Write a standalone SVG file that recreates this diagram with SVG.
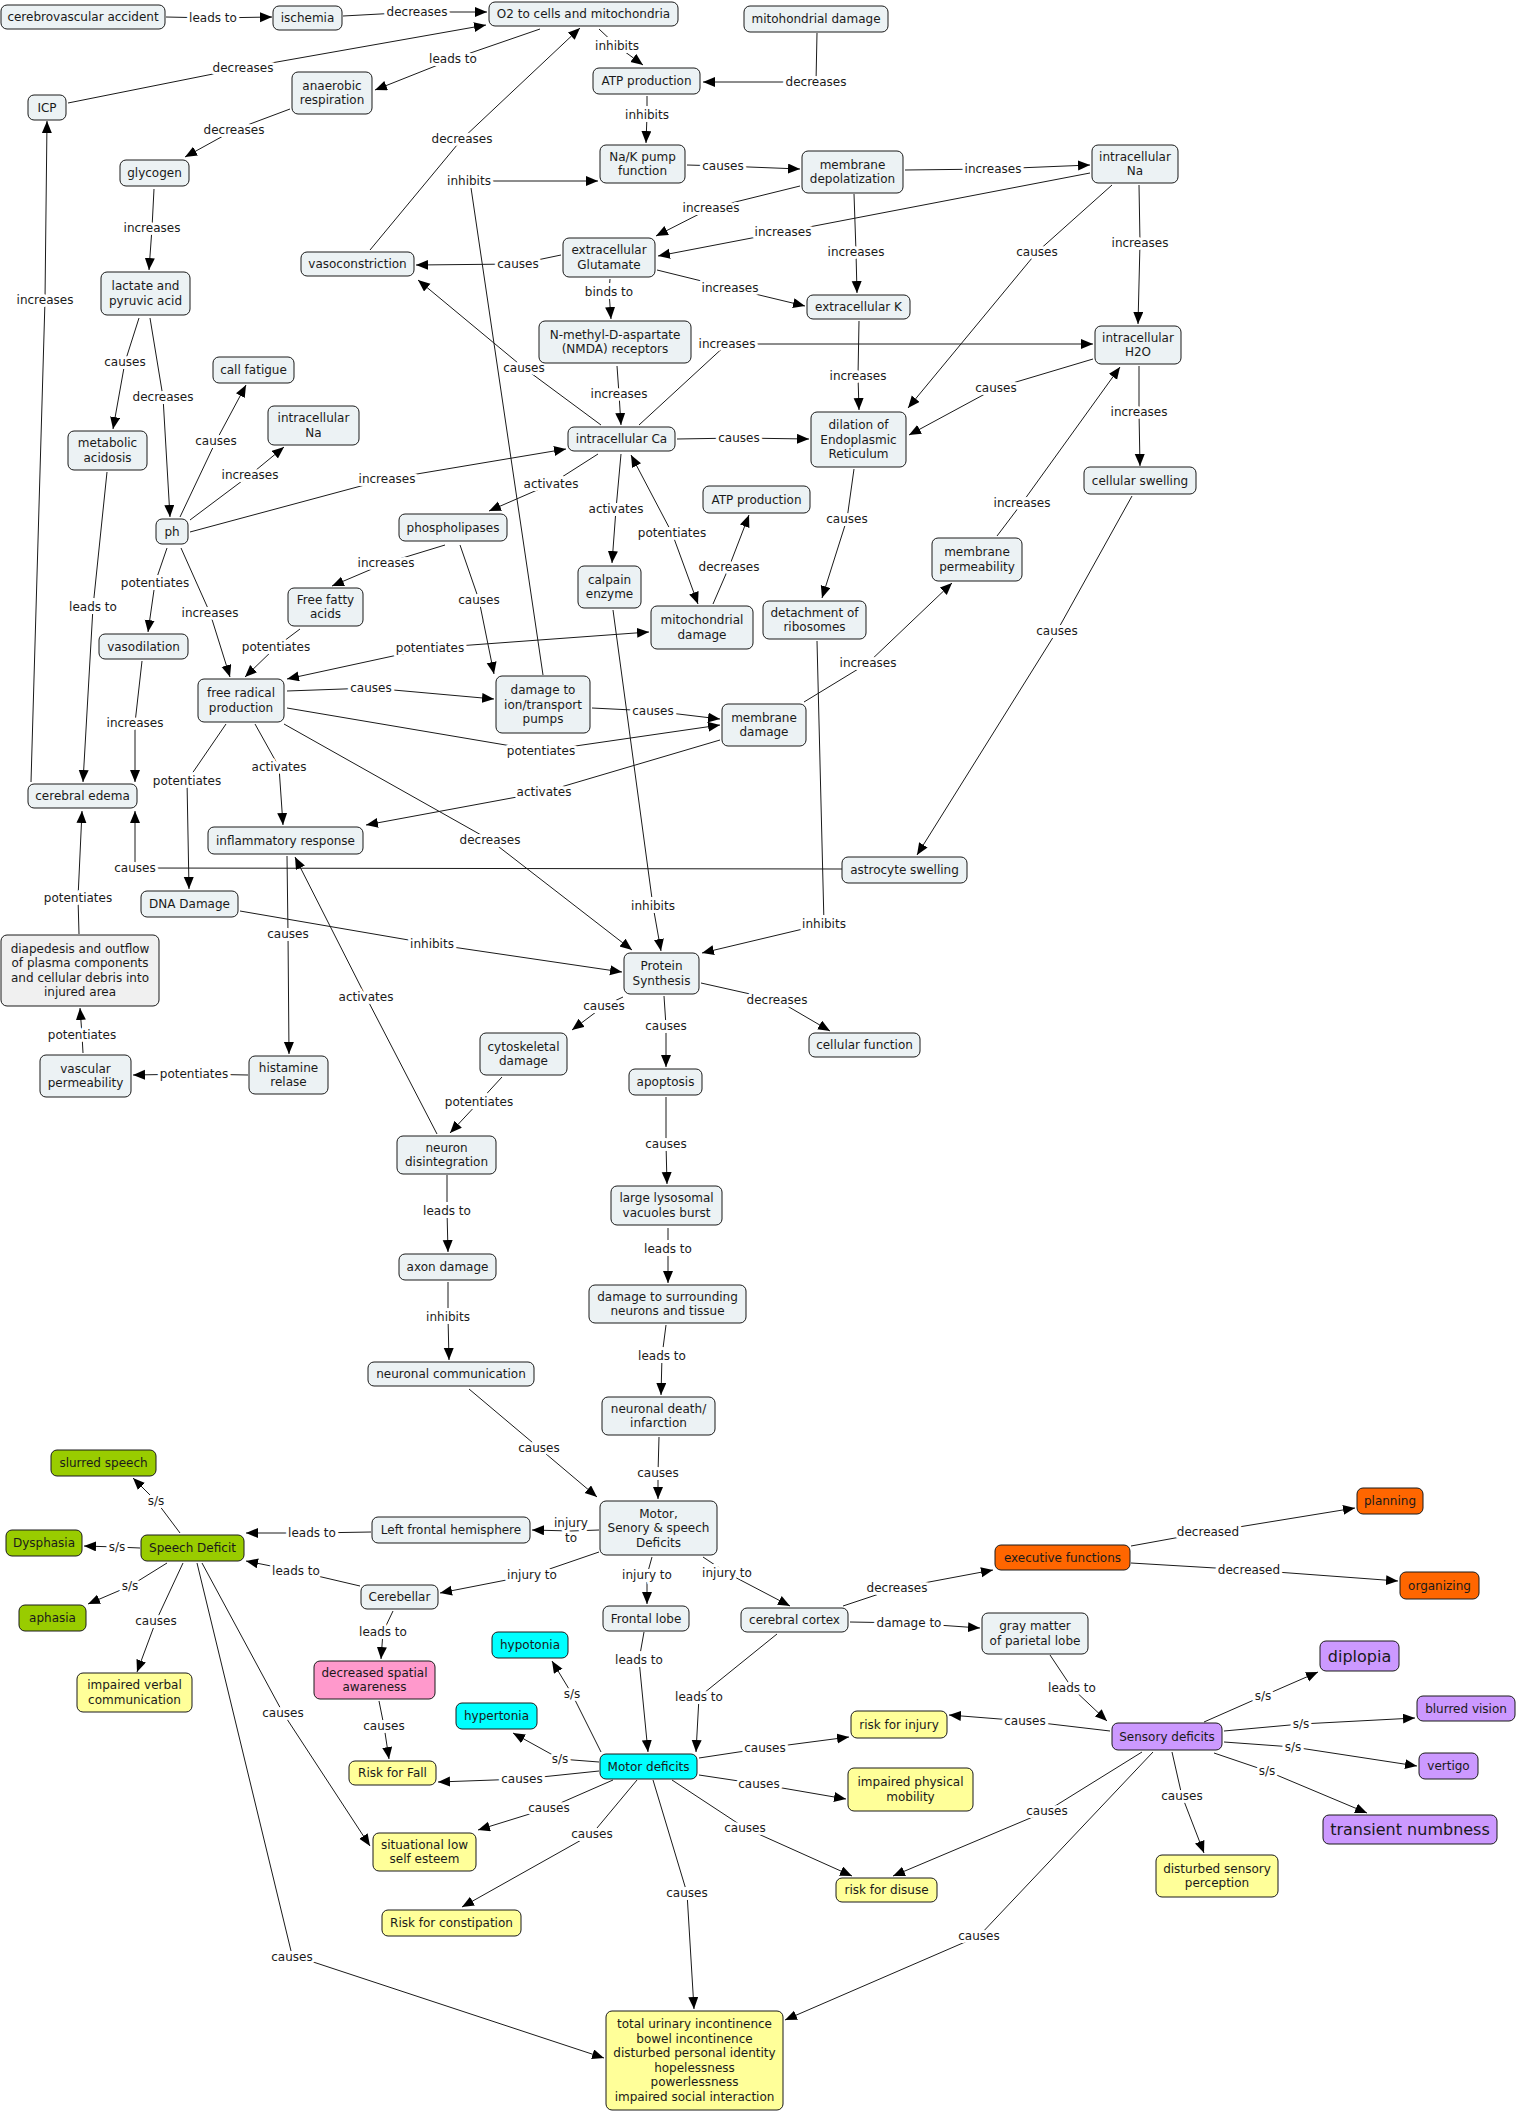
<svg xmlns="http://www.w3.org/2000/svg" width="1518" height="2113" viewBox="0 0 1518 2113">
<defs>
<style>
rect{stroke:#1a1a1a;stroke-width:1}
.n{fill:#ecf2f4}.d{fill:#f0f0f0}.g{fill:#99cc00}.y{fill:#ffff99}.c{fill:#00ffff}.p{fill:#cc99ff}.o{fill:#ff6600}.k{fill:#ff99cc}
text{font-family:"DejaVu Sans","Verdana",sans-serif;font-size:12px;fill:#1a1a1a;text-anchor:middle}
.big{font-size:16px}
.e{fill:none;stroke:#1a1a1a;stroke-width:1}
.l{stroke:#fff;stroke-width:6;stroke-linejoin:round;paint-order:stroke}
</style>
<marker id="a" markerUnits="userSpaceOnUse" markerWidth="13" markerHeight="11" refX="12" refY="5" orient="auto-start-reverse"><path d="M0,0 L12,5 L0,10 z" fill="#000"/></marker>
</defs>
<rect x="0" y="0" width="1518" height="2113" fill="#fff" style="stroke:none"/>
<g id="connectors">
<path class="e" marker-end="url(#a)" d="M166,17 L213,18 L272,17"/>
<path class="e" marker-end="url(#a)" d="M343,16 L417,12 L487,12"/>
<path class="e" marker-end="url(#a)" d="M68,103 L243,68 L486,25"/>
<path class="e" marker-end="url(#a)" d="M540,29 L453,59 L375,90"/>
<path class="e" marker-end="url(#a)" d="M290,109 L234,130 L185,157"/>
<path class="e" marker-end="url(#a)" d="M154,189 L152,228 L149,270"/>
<path class="e" marker-end="url(#a)" d="M370,250 L462,139 L580,28"/>
<path class="e" marker-end="url(#a)" d="M543,675 L470,181 L598,181"/>
<path class="e" marker-end="url(#a)" d="M599,29 L617,46 L643,65"/>
<path class="e" marker-end="url(#a)" d="M817,33 L816,82 L703,82"/>
<path class="e" marker-end="url(#a)" d="M647,96 L647,115 L646,143"/>
<path class="e" marker-end="url(#a)" d="M687,165 L723,166 L800,169"/>
<path class="e" marker-end="url(#a)" d="M905,170 L993,169 L1090,165"/>
<path class="e" marker-end="url(#a)" d="M800,186 L711,208 L656,236"/>
<path class="e" marker-end="url(#a)" d="M1090,173 L783,232 L658,256"/>
<path class="e" marker-end="url(#a)" d="M854,194 L856,252 L857,293"/>
<path class="e" marker-end="url(#a)" d="M657,270 L730,288 L805,306"/>
<path class="e" marker-end="url(#a)" d="M610,279 L609,292 L611,319"/>
<path class="e" marker-end="url(#a)" d="M561,255 L518,264 L416,265"/>
<path class="e" marker-end="url(#a)" d="M601,425 L524,368 L418,280"/>
<path class="e" marker-end="url(#a)" d="M617,366 L619,394 L621,425"/>
<path class="e" marker-end="url(#a)" d="M639,425 L727,344 L1093,344"/>
<path class="e" marker-end="url(#a)" d="M1139,185 L1140,243 L1138,324"/>
<path class="e" marker-end="url(#a)" d="M677,439 L739,438 L809,439"/>
<path class="e" marker-end="url(#a)" d="M1112,185 L1037,252 L908,408"/>
<path class="e" marker-end="url(#a)" d="M1093,359 L996,388 L909,435"/>
<path class="e" marker-end="url(#a)" d="M859,321 L858,376 L859,410"/>
<path class="e" marker-end="url(#a)" d="M1139,366 L1139,412 L1140,466"/>
<path class="e" marker-end="url(#a)" d="M139,318 L125,362 L113,429"/>
<path class="e" marker-end="url(#a)" d="M150,318 L163,397 L170,517"/>
<path class="e" marker-end="url(#a)" d="M180,517 L216,441 L246,385"/>
<path class="e" marker-end="url(#a)" d="M190,520 L250,475 L284,447"/>
<path class="e" marker-end="url(#a)" d="M190,532 L387,479 L566,449"/>
<path class="e" marker-end="url(#a)" d="M31,782 L45,300 L47,121"/>
<path class="e" marker-end="url(#a)" d="M598,454 L551,484 L489,511"/>
<path class="e" marker-end="url(#a)" d="M621,454 L616,509 L612,563"/>
<path class="e" marker-start="url(#a)" marker-end="url(#a)" d="M631,455 L672,533 L698,604"/>
<path class="e" marker-end="url(#a)" d="M713,604 L729,567 L749,515"/>
<path class="e" marker-end="url(#a)" d="M854,469 L847,519 L822,598"/>
<path class="e" marker-end="url(#a)" d="M997,536 L1022,503 L1120,367"/>
<path class="e" marker-end="url(#a)" d="M1132,496 L1057,631 L917,855"/>
<path class="e" marker-end="url(#a)" d="M445,545 L386,563 L332,586"/>
<path class="e" marker-end="url(#a)" d="M460,545 L479,600 L494,674"/>
<path class="e" marker-end="url(#a)" d="M167,548 L155,583 L148,632"/>
<path class="e" marker-end="url(#a)" d="M181,548 L210,613 L230,677"/>
<path class="e" marker-end="url(#a)" d="M107,472 L93,607 L83,782"/>
<path class="e" marker-end="url(#a)" d="M300,629 L276,647 L245,677"/>
<path class="e" marker-start="url(#a)" marker-end="url(#a)" d="M287,679 L430,648 L649,632"/>
<path class="e" marker-end="url(#a)" d="M287,691 L371,688 L494,699"/>
<path class="e" marker-end="url(#a)" d="M287,708 L541,751 L720,725"/>
<path class="e" marker-end="url(#a)" d="M142,661 L135,723 L135,782"/>
<path class="e" marker-end="url(#a)" d="M226,724 L187,781 L189,889"/>
<path class="e" marker-end="url(#a)" d="M255,724 L279,767 L283,825"/>
<path class="e" marker-end="url(#a)" d="M284,724 L490,840 L632,950"/>
<path class="e" marker-end="url(#a)" d="M720,740 L544,792 L366,825"/>
<path class="e" marker-end="url(#a)" d="M842,869 L135,868 L135,811"/>
<path class="e" marker-end="url(#a)" d="M79,934 L78,898 L82,811"/>
<path class="e" marker-end="url(#a)" d="M240,911 L432,944 L622,972"/>
<path class="e" marker-end="url(#a)" d="M287,856 L288,934 L289,1054"/>
<path class="e" marker-end="url(#a)" d="M437,1134 L366,997 L295,857"/>
<path class="e" marker-end="url(#a)" d="M83,1053 L82,1035 L80,1008"/>
<path class="e" marker-end="url(#a)" d="M613,610 L653,906 L661,951"/>
<path class="e" marker-end="url(#a)" d="M592,708 L653,711 L720,719"/>
<path class="e" marker-end="url(#a)" d="M804,702 L868,663 L952,583"/>
<path class="e" marker-end="url(#a)" d="M817,641 L824,924 L702,953"/>
<path class="e" marker-end="url(#a)" d="M623,997 L604,1006 L572,1030"/>
<path class="e" marker-end="url(#a)" d="M664,996 L666,1026 L666,1067"/>
<path class="e" marker-end="url(#a)" d="M701,983 L777,1000 L830,1031"/>
<path class="e" marker-end="url(#a)" d="M248,1075 L194,1074 L133,1075"/>
<path class="e" marker-end="url(#a)" d="M502,1077 L479,1102 L450,1133"/>
<path class="e" marker-end="url(#a)" d="M447,1175 L447,1211 L448,1252"/>
<path class="e" marker-end="url(#a)" d="M448,1282 L448,1317 L449,1360"/>
<path class="e" marker-end="url(#a)" d="M666,1097 L666,1144 L667,1184"/>
<path class="e" marker-end="url(#a)" d="M668,1228 L668,1249 L668,1283"/>
<path class="e" marker-end="url(#a)" d="M666,1325 L662,1356 L661,1395"/>
<path class="e" marker-end="url(#a)" d="M659,1437 L658,1473 L658,1499"/>
<path class="e" marker-end="url(#a)" d="M469,1389 L539,1448 L597,1497"/>
<path class="e" marker-end="url(#a)" d="M599,1530 L571,1531 L532,1530"/>
<path class="e" marker-end="url(#a)" d="M371,1532 L312,1533 L246,1533"/>
<path class="e" marker-end="url(#a)" d="M360,1586 L296,1571 L246,1561"/>
<path class="e" marker-end="url(#a)" d="M180,1533 L156,1501 L133,1478"/>
<path class="e" marker-end="url(#a)" d="M140,1548 L117,1547 L84,1546"/>
<path class="e" marker-end="url(#a)" d="M599,1552 L532,1575 L440,1593"/>
<path class="e" marker-end="url(#a)" d="M652,1557 L647,1575 L647,1604"/>
<path class="e" marker-end="url(#a)" d="M703,1557 L727,1573 L790,1606"/>
<path class="e" marker-end="url(#a)" d="M1131,1546 L1208,1532 L1355,1508"/>
<path class="e" marker-end="url(#a)" d="M1131,1563 L1249,1570 L1398,1581"/>
<path class="e" marker-end="url(#a)" d="M843,1606 L897,1588 L993,1570"/>
<path class="e" marker-end="url(#a)" d="M850,1622 L909,1623 L980,1628"/>
<path class="e" marker-end="url(#a)" d="M644,1632 L639,1660 L648,1752"/>
<path class="e" marker-end="url(#a)" d="M777,1634 L699,1697 L696,1752"/>
<path class="e" marker-end="url(#a)" d="M1050,1655 L1072,1688 L1107,1721"/>
<path class="e" marker-end="url(#a)" d="M167,1563 L130,1586 L88,1604"/>
<path class="e" marker-end="url(#a)" d="M183,1563 L156,1621 L137,1672"/>
<path class="e" marker-end="url(#a)" d="M202,1563 L283,1713 L370,1846"/>
<path class="e" marker-end="url(#a)" d="M197,1563 L292,1955 L604,2058"/>
<path class="e" marker-end="url(#a)" d="M393,1611 L383,1632 L381,1659"/>
<path class="e" marker-end="url(#a)" d="M379,1701 L384,1726 L389,1759"/>
<path class="e" marker-end="url(#a)" d="M601,1752 L572,1694 L552,1661"/>
<path class="e" marker-end="url(#a)" d="M599,1762 L560,1759 L513,1733"/>
<path class="e" marker-end="url(#a)" d="M599,1771 L522,1779 L438,1782"/>
<path class="e" marker-end="url(#a)" d="M613,1780 L549,1808 L478,1830"/>
<path class="e" marker-end="url(#a)" d="M637,1780 L592,1834 L462,1907"/>
<path class="e" marker-end="url(#a)" d="M699,1758 L765,1748 L849,1737"/>
<path class="e" marker-end="url(#a)" d="M699,1775 L759,1784 L846,1799"/>
<path class="e" marker-end="url(#a)" d="M672,1780 L745,1828 L852,1876"/>
<path class="e" marker-end="url(#a)" d="M653,1780 L687,1893 L694,2009"/>
<path class="e" marker-end="url(#a)" d="M1110,1731 L1025,1721 L949,1715"/>
<path class="e" marker-end="url(#a)" d="M1142,1752 L1047,1811 L893,1876"/>
<path class="e" marker-end="url(#a)" d="M1153,1752 L979,1936 L785,2020"/>
<path class="e" marker-end="url(#a)" d="M1172,1752 L1182,1796 L1204,1853"/>
<path class="e" marker-end="url(#a)" d="M1204,1722 L1263,1696 L1318,1672"/>
<path class="e" marker-end="url(#a)" d="M1224,1731 L1301,1724 L1415,1718"/>
<path class="e" marker-end="url(#a)" d="M1224,1742 L1293,1747 L1417,1766"/>
<path class="e" marker-end="url(#a)" d="M1214,1753 L1267,1771 L1367,1813"/>
<g id="labels">
<text class="l" x="213" y="22">leads to</text>
<text class="l" x="417" y="16">decreases</text>
<text class="l" x="243" y="72">decreases</text>
<text class="l" x="453" y="63">leads to</text>
<text class="l" x="234" y="134">decreases</text>
<text class="l" x="152" y="232">increases</text>
<text class="l" x="462" y="143">decreases</text>
<text class="l" x="469" y="185">inhibits</text>
<text class="l" x="617" y="50">inhibits</text>
<text class="l" x="816" y="86">decreases</text>
<text class="l" x="647" y="119">inhibits</text>
<text class="l" x="723" y="170">causes</text>
<text class="l" x="993" y="173">increases</text>
<text class="l" x="711" y="212">increases</text>
<text class="l" x="783" y="236">increases</text>
<text class="l" x="856" y="256">increases</text>
<text class="l" x="730" y="292">increases</text>
<text class="l" x="609" y="296">binds to</text>
<text class="l" x="518" y="268">causes</text>
<text class="l" x="524" y="372">causes</text>
<text class="l" x="619" y="398">increases</text>
<text class="l" x="727" y="348">increases</text>
<text class="l" x="1140" y="247">increases</text>
<text class="l" x="739" y="442">causes</text>
<text class="l" x="1037" y="256">causes</text>
<text class="l" x="996" y="392">causes</text>
<text class="l" x="858" y="380">increases</text>
<text class="l" x="1139" y="416">increases</text>
<text class="l" x="125" y="366">causes</text>
<text class="l" x="163" y="401">decreases</text>
<text class="l" x="216" y="445">causes</text>
<text class="l" x="250" y="479">increases</text>
<text class="l" x="387" y="483">increases</text>
<text class="l" x="45" y="304">increases</text>
<text class="l" x="551" y="488">activates</text>
<text class="l" x="616" y="513">activates</text>
<text class="l" x="672" y="537">potentiates</text>
<text class="l" x="729" y="571">decreases</text>
<text class="l" x="847" y="523">causes</text>
<text class="l" x="1022" y="507">increases</text>
<text class="l" x="1057" y="635">causes</text>
<text class="l" x="386" y="567">increases</text>
<text class="l" x="479" y="604">causes</text>
<text class="l" x="155" y="587">potentiates</text>
<text class="l" x="210" y="617">increases</text>
<text class="l" x="93" y="611">leads to</text>
<text class="l" x="276" y="651">potentiates</text>
<text class="l" x="430" y="652">potentiates</text>
<text class="l" x="371" y="692">causes</text>
<text class="l" x="541" y="755">potentiates</text>
<text class="l" x="135" y="727">increases</text>
<text class="l" x="187" y="785">potentiates</text>
<text class="l" x="279" y="771">activates</text>
<text class="l" x="490" y="844">decreases</text>
<text class="l" x="544" y="796">activates</text>
<text class="l" x="135" y="872">causes</text>
<text class="l" x="78" y="902">potentiates</text>
<text class="l" x="432" y="948">inhibits</text>
<text class="l" x="288" y="938">causes</text>
<text class="l" x="366" y="1001">activates</text>
<text class="l" x="82" y="1039">potentiates</text>
<text class="l" x="653" y="910">inhibits</text>
<text class="l" x="653" y="715">causes</text>
<text class="l" x="868" y="667">increases</text>
<text class="l" x="824" y="928">inhibits</text>
<text class="l" x="604" y="1010">causes</text>
<text class="l" x="666" y="1030">causes</text>
<text class="l" x="777" y="1004">decreases</text>
<text class="l" x="194" y="1078">potentiates</text>
<text class="l" x="479" y="1106">potentiates</text>
<text class="l" x="447" y="1215">leads to</text>
<text class="l" x="448" y="1321">inhibits</text>
<text class="l" x="666" y="1148">causes</text>
<text class="l" x="668" y="1253">leads to</text>
<text class="l" x="662" y="1360">leads to</text>
<text class="l" x="658" y="1477">causes</text>
<text class="l" x="539" y="1452">causes</text>
<text class="l" x="571" y="1527">injury<tspan x="571" dy="14.5">to</tspan></text>
<text class="l" x="312" y="1537">leads to</text>
<text class="l" x="296" y="1575">leads to</text>
<text class="l" x="156" y="1505">s/s</text>
<text class="l" x="117" y="1551">s/s</text>
<text class="l" x="532" y="1579">injury to</text>
<text class="l" x="647" y="1579">injury to</text>
<text class="l" x="727" y="1577">injury to</text>
<text class="l" x="1208" y="1536">decreased</text>
<text class="l" x="1249" y="1574">decreased</text>
<text class="l" x="897" y="1592">decreases</text>
<text class="l" x="909" y="1627">damage to</text>
<text class="l" x="639" y="1664">leads to</text>
<text class="l" x="699" y="1701">leads to</text>
<text class="l" x="1072" y="1692">leads to</text>
<text class="l" x="130" y="1590">s/s</text>
<text class="l" x="156" y="1625">causes</text>
<text class="l" x="283" y="1717">causes</text>
<text class="l" x="292" y="1961">causes</text>
<text class="l" x="383" y="1636">leads to</text>
<text class="l" x="384" y="1730">causes</text>
<text class="l" x="572" y="1698">s/s</text>
<text class="l" x="560" y="1763">s/s</text>
<text class="l" x="522" y="1783">causes</text>
<text class="l" x="549" y="1812">causes</text>
<text class="l" x="592" y="1838">causes</text>
<text class="l" x="765" y="1752">causes</text>
<text class="l" x="759" y="1788">causes</text>
<text class="l" x="745" y="1832">causes</text>
<text class="l" x="687" y="1897">causes</text>
<text class="l" x="1025" y="1725">causes</text>
<text class="l" x="1047" y="1815">causes</text>
<text class="l" x="979" y="1940">causes</text>
<text class="l" x="1182" y="1800">causes</text>
<text class="l" x="1263" y="1700">s/s</text>
<text class="l" x="1301" y="1728">s/s</text>
<text class="l" x="1293" y="1751">s/s</text>
<text class="l" x="1267" y="1775">s/s</text>
</g>
</g>
<g id="nodes">
<g id="n1"><rect class="n" x="1" y="5" width="164" height="24" rx="6"/><text x="83" y="21">cerebrovascular accident</text></g>
<g id="n2"><rect class="n" x="273" y="6" width="69" height="24" rx="6"/><text x="307.5" y="22">ischemia</text></g>
<g id="n3"><rect class="n" x="489" y="2" width="189" height="24" rx="6"/><text x="583.5" y="18">O2 to cells and mitochondria</text></g>
<g id="n4"><rect class="n" x="744" y="6" width="144" height="26" rx="6"/><text x="816" y="23">mitohondrial damage</text></g>
<g id="n5"><rect class="n" x="28" y="95" width="38" height="25" rx="6"/><text x="47" y="111.5">ICP</text></g>
<g id="n6"><rect class="n" x="292" y="72" width="80" height="42" rx="6"/><text x="332" y="89.75">anaerobic<tspan x="332" dy="14.5">respiration</tspan></text></g>
<g id="n7"><rect class="n" x="593" y="68" width="107" height="26" rx="6"/><text x="646.5" y="85">ATP production</text></g>
<g id="n8"><rect class="n" x="120" y="160" width="69" height="26" rx="6"/><text x="154.5" y="177">glycogen</text></g>
<g id="n9"><rect class="n" x="600" y="145" width="85" height="38" rx="6"/><text x="642.5" y="160.75">Na/K pump<tspan x="642.5" dy="14.5">function</tspan></text></g>
<g id="n10"><rect class="n" x="802" y="151" width="101" height="42" rx="6"/><text x="852.5" y="168.75">membrane<tspan x="852.5" dy="14.5">depolatization</tspan></text></g>
<g id="n11"><rect class="n" x="1092" y="145" width="86" height="38" rx="6"/><text x="1135" y="160.75">intracellular<tspan x="1135" dy="14.5">Na</tspan></text></g>
<g id="n12"><rect class="n" x="301" y="252" width="113" height="24" rx="6"/><text x="357.5" y="268">vasoconstriction</text></g>
<g id="n13"><rect class="n" x="563" y="238" width="92" height="39" rx="6"/><text x="609" y="254.25">extracellular<tspan x="609" dy="14.5">Glutamate</tspan></text></g>
<g id="n14"><rect class="n" x="101" y="272" width="89" height="43" rx="6"/><text x="145.5" y="290.25">lactate and<tspan x="145.5" dy="14.5">pyruvic acid</tspan></text></g>
<g id="n15"><rect class="n" x="807" y="295" width="103" height="24" rx="6"/><text x="858.5" y="311">extracellular K</text></g>
<g id="n16"><rect class="n" x="539" y="321" width="152" height="42" rx="6"/><text x="615" y="338.75">N-methyl-D-aspartate<tspan x="615" dy="14.5">(NMDA) receptors</tspan></text></g>
<g id="n17"><rect class="n" x="1095" y="326" width="86" height="38" rx="6"/><text x="1138" y="341.75">intracellular<tspan x="1138" dy="14.5">H2O</tspan></text></g>
<g id="n18"><rect class="n" x="213" y="357" width="81" height="26" rx="6"/><text x="253.5" y="374">call fatigue</text></g>
<g id="n19"><rect class="n" x="268" y="406" width="91" height="39" rx="6"/><text x="313.5" y="422.25">intracellular<tspan x="313.5" dy="14.5">Na</tspan></text></g>
<g id="n20"><rect class="n" x="68" y="431" width="79" height="39" rx="6"/><text x="107.5" y="447.25">metabolic<tspan x="107.5" dy="14.5">acidosis</tspan></text></g>
<g id="n21"><rect class="n" x="568" y="427" width="107" height="24" rx="6"/><text x="621.5" y="443">intracellular Ca</text></g>
<g id="n22"><rect class="n" x="811" y="412" width="95" height="55" rx="6"/><text x="858.5" y="429">dilation of<tspan x="858.5" dy="14.5">Endoplasmic</tspan><tspan x="858.5" dy="14.5">Reticulum</tspan></text></g>
<g id="n23"><rect class="n" x="1084" y="467" width="112" height="27" rx="6"/><text x="1140" y="484.5">cellular swelling</text></g>
<g id="n24"><rect class="n" x="703" y="486" width="107" height="27" rx="6"/><text x="756.5" y="503.5">ATP production</text></g>
<g id="n25"><rect class="n" x="156" y="519" width="32" height="25" rx="6"/><text x="172" y="535.5">ph</text></g>
<g id="n26"><rect class="n" x="399" y="514" width="108" height="27" rx="6"/><text x="453" y="531.5">phospholipases</text></g>
<g id="n27"><rect class="n" x="932" y="538" width="90" height="43" rx="6"/><text x="977" y="556.25">membrane<tspan x="977" dy="14.5">permeability</tspan></text></g>
<g id="n28"><rect class="n" x="578" y="566" width="63" height="42" rx="6"/><text x="609.5" y="583.75">calpain<tspan x="609.5" dy="14.5">enzyme</tspan></text></g>
<g id="n29"><rect class="n" x="288" y="588" width="75" height="38" rx="6"/><text x="325.5" y="603.75">Free fatty<tspan x="325.5" dy="14.5">acids</tspan></text></g>
<g id="n30"><rect class="n" x="763" y="601" width="103" height="38" rx="6"/><text x="814.5" y="616.75">detachment of<tspan x="814.5" dy="14.5">ribosomes</tspan></text></g>
<g id="n31"><rect class="n" x="651" y="606" width="102" height="43" rx="6"/><text x="702" y="624.25">mitochondrial<tspan x="702" dy="14.5">damage</tspan></text></g>
<g id="n32"><rect class="n" x="99" y="634" width="89" height="25" rx="6"/><text x="143.5" y="650.5">vasodilation</text></g>
<g id="n33"><rect class="n" x="496" y="676" width="94" height="57" rx="6"/><text x="543" y="694">damage to<tspan x="543" dy="14.5">ion/transport</tspan><tspan x="543" dy="14.5">pumps</tspan></text></g>
<g id="n34"><rect class="n" x="198" y="679" width="86" height="43" rx="6"/><text x="241" y="697.25">free radical<tspan x="241" dy="14.5">production</tspan></text></g>
<g id="n35"><rect class="n" x="722" y="704" width="84" height="42" rx="6"/><text x="764" y="721.75">membrane<tspan x="764" dy="14.5">damage</tspan></text></g>
<g id="n36"><rect class="n" x="28" y="784" width="109" height="24" rx="6"/><text x="82.5" y="800">cerebral edema</text></g>
<g id="n37"><rect class="n" x="208" y="827" width="155" height="27" rx="6"/><text x="285.5" y="844.5">inflammatory response</text></g>
<g id="n38"><rect class="n" x="842" y="857" width="125" height="26" rx="6"/><text x="904.5" y="874">astrocyte swelling</text></g>
<g id="n39"><rect class="n" x="141" y="891" width="97" height="26" rx="6"/><text x="189.5" y="908">DNA Damage</text></g>
<g id="n40"><rect class="d" x="1" y="935" width="158" height="71" rx="6"/><text x="80" y="952.75">diapedesis and outflow<tspan x="80" dy="14.5">of plasma components</tspan><tspan x="80" dy="14.5">and cellular debris into</tspan><tspan x="80" dy="14.5">injured area</tspan></text></g>
<g id="n41"><rect class="n" x="624" y="953" width="75" height="41" rx="6"/><text x="661.5" y="970.25">Protein<tspan x="661.5" dy="14.5">Synthesis</tspan></text></g>
<g id="n42"><rect class="n" x="480" y="1033" width="87" height="42" rx="6"/><text x="523.5" y="1050.75">cytoskeletal<tspan x="523.5" dy="14.5">damage</tspan></text></g>
<g id="n43"><rect class="n" x="809" y="1033" width="111" height="24" rx="6"/><text x="864.5" y="1049">cellular function</text></g>
<g id="n44"><rect class="n" x="40" y="1055" width="91" height="42" rx="6"/><text x="85.5" y="1072.75">vascular<tspan x="85.5" dy="14.5">permeability</tspan></text></g>
<g id="n45"><rect class="n" x="249" y="1056" width="79" height="38" rx="6"/><text x="288.5" y="1071.75">histamine<tspan x="288.5" dy="14.5">relase</tspan></text></g>
<g id="n46"><rect class="n" x="629" y="1069" width="73" height="26" rx="6"/><text x="665.5" y="1086">apoptosis</text></g>
<g id="n47"><rect class="n" x="397" y="1136" width="99" height="38" rx="6"/><text x="446.5" y="1151.75">neuron<tspan x="446.5" dy="14.5">disintegration</tspan></text></g>
<g id="n48"><rect class="n" x="611" y="1186" width="111" height="39" rx="6"/><text x="666.5" y="1202.25">large lysosomal<tspan x="666.5" dy="14.5">vacuoles burst</tspan></text></g>
<g id="n49"><rect class="n" x="399" y="1254" width="97" height="26" rx="6"/><text x="447.5" y="1271">axon damage</text></g>
<g id="n50"><rect class="n" x="589" y="1285" width="157" height="38" rx="6"/><text x="667.5" y="1300.75">damage to surrounding<tspan x="667.5" dy="14.5">neurons and tissue</tspan></text></g>
<g id="n51"><rect class="n" x="368" y="1362" width="166" height="24" rx="6"/><text x="451" y="1378">neuronal communication</text></g>
<g id="n52"><rect class="n" x="602" y="1397" width="113" height="38" rx="6"/><text x="658.5" y="1412.75">neuronal death/<tspan x="658.5" dy="14.5">infarction</tspan></text></g>
<g id="n53"><rect class="g" x="51" y="1450" width="105" height="26" rx="6"/><text x="103.5" y="1467">slurred speech</text></g>
<g id="n54"><rect class="o" x="1357" y="1488" width="66" height="26" rx="6"/><text x="1390" y="1505">planning</text></g>
<g id="n55"><rect class="n" x="600" y="1501" width="117" height="54" rx="6"/><text x="658.5" y="1517.5">Motor,<tspan x="658.5" dy="14.5">Senory &amp; speech</tspan><tspan x="658.5" dy="14.5">Deficits</tspan></text></g>
<g id="n56"><rect class="n" x="372" y="1517" width="158" height="26" rx="6"/><text x="451" y="1534">Left frontal hemisphere</text></g>
<g id="n57"><rect class="g" x="6" y="1530" width="76" height="26" rx="6"/><text x="44" y="1547">Dysphasia</text></g>
<g id="n58"><rect class="g" x="141" y="1535" width="103" height="26" rx="6"/><text x="192.5" y="1552">Speech Deficit</text></g>
<g id="n59"><rect class="o" x="995" y="1545" width="135" height="25" rx="6"/><text x="1062.5" y="1561.5">executive functions</text></g>
<g id="n60"><rect class="o" x="1400" y="1572" width="79" height="27" rx="6"/><text x="1439.5" y="1589.5">organizing</text></g>
<g id="n61"><rect class="n" x="361" y="1585" width="77" height="24" rx="6"/><text x="399.5" y="1601">Cerebellar</text></g>
<g id="n62"><rect class="g" x="19" y="1605" width="67" height="26" rx="6"/><text x="52.5" y="1622">aphasia</text></g>
<g id="n63"><rect class="n" x="603" y="1606" width="86" height="25" rx="6"/><text x="646" y="1622.5">Frontal lobe</text></g>
<g id="n64"><rect class="n" x="741" y="1608" width="107" height="24" rx="6"/><text x="794.5" y="1624">cerebral cortex</text></g>
<g id="n65"><rect class="n" x="982" y="1613" width="106" height="41" rx="6"/><text x="1035" y="1630.25">gray matter<tspan x="1035" dy="14.5">of parietal lobe</tspan></text></g>
<g id="n66"><rect class="c" x="492" y="1632" width="76" height="26" rx="6"/><text x="530" y="1649">hypotonia</text></g>
<g id="n67"><rect class="p" x="1320" y="1641" width="79" height="30" rx="6"/><text class="big" x="1359.5" y="1661.5">diplopia</text></g>
<g id="n68"><rect class="k" x="314" y="1661" width="121" height="38" rx="6"/><text x="374.5" y="1676.75">decreased spatial<tspan x="374.5" dy="14.5">awareness</tspan></text></g>
<g id="n69"><rect class="y" x="77" y="1673" width="115" height="39" rx="6"/><text x="134.5" y="1689.25">impaired verbal<tspan x="134.5" dy="14.5">communication</tspan></text></g>
<g id="n70"><rect class="p" x="1417" y="1696" width="98" height="25" rx="6"/><text x="1466" y="1712.5">blurred vision</text></g>
<g id="n71"><rect class="c" x="456" y="1703" width="81" height="26" rx="6"/><text x="496.5" y="1720">hypertonia</text></g>
<g id="n72"><rect class="y" x="851" y="1711" width="96" height="27" rx="6"/><text x="899" y="1728.5">risk for injury</text></g>
<g id="n73"><rect class="p" x="1112" y="1723" width="110" height="27" rx="6"/><text x="1167" y="1740.5">Sensory deficits</text></g>
<g id="n74"><rect class="c" x="600" y="1754" width="97" height="25" rx="6"/><text x="648.5" y="1770.5">Motor deficits</text></g>
<g id="n75"><rect class="p" x="1419" y="1753" width="59" height="26" rx="6"/><text x="1448.5" y="1770">vertigo</text></g>
<g id="n76"><rect class="y" x="349" y="1761" width="87" height="24" rx="6"/><text x="392.5" y="1777">Risk for Fall</text></g>
<g id="n77"><rect class="y" x="848" y="1768" width="125" height="43" rx="6"/><text x="910.5" y="1786.25">impaired physical<tspan x="910.5" dy="14.5">mobility</tspan></text></g>
<g id="n78"><rect class="p" x="1323" y="1815" width="174" height="29" rx="6"/><text class="big" x="1410" y="1835">transient numbness</text></g>
<g id="n79"><rect class="y" x="373" y="1833" width="103" height="38" rx="6"/><text x="424.5" y="1848.75">situational low<tspan x="424.5" dy="14.5">self esteem</tspan></text></g>
<g id="n80"><rect class="y" x="1156" y="1855" width="122" height="42" rx="6"/><text x="1217" y="1872.75">disturbed sensory<tspan x="1217" dy="14.5">perception</tspan></text></g>
<g id="n81"><rect class="y" x="836" y="1878" width="101" height="24" rx="6"/><text x="886.5" y="1894">risk for disuse</text></g>
<g id="n82"><rect class="y" x="382" y="1910" width="139" height="26" rx="6"/><text x="451.5" y="1927">Risk for constipation</text></g>
<g id="n83"><rect class="y" x="606" y="2011" width="177" height="99" rx="6"/><text x="694.5" y="2028.25">total urinary incontinence<tspan x="694.5" dy="14.5">bowel incontinence</tspan><tspan x="694.5" dy="14.5">disturbed personal identity</tspan><tspan x="694.5" dy="14.5">hopelessness</tspan><tspan x="694.5" dy="14.5">powerlessness</tspan><tspan x="694.5" dy="14.5">impaired social interaction</tspan></text></g>
</g>
</svg>
